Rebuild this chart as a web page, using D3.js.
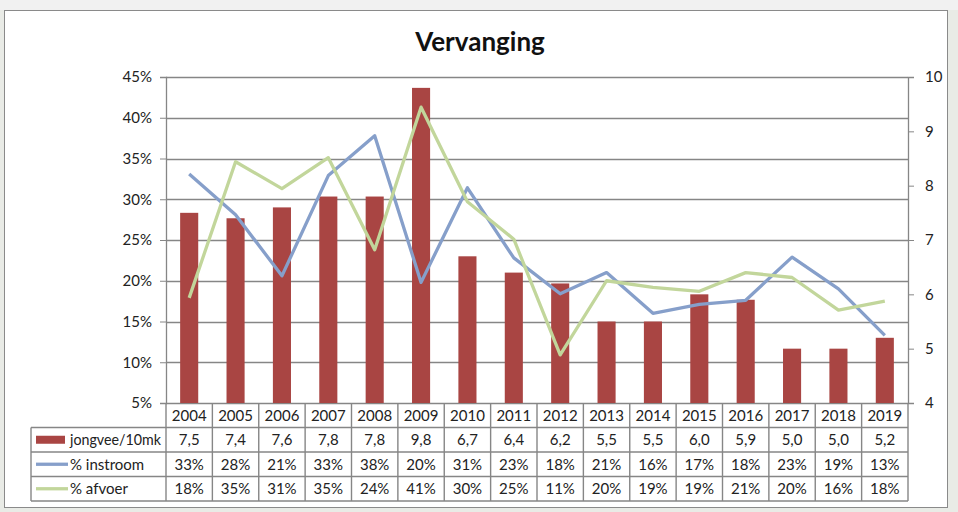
<!DOCTYPE html>
<html>
<head>
<meta charset="utf-8">
<script src="https://cdn.jsdelivr.net/npm/d3@7"></script>
<style>
  html, body { margin: 0; padding: 0; background: #e9ebe6; }
  svg { display: block; font-family: Lato, "Open Sans", sans-serif; }
</style>
</head>
<body>
<svg id="chart"></svg>
<script>
// data
const years = ["2004", "2005", "2006", "2007", "2008", "2009", "2010", "2011",
  "2012", "2013", "2014", "2015", "2016", "2017", "2018", "2019"];
const jongvee = [7.5, 7.4, 7.6, 7.8, 7.8, 9.8, 6.7, 6.4, 6.2, 5.5, 5.5, 6.0, 5.9, 5.0, 5.0, 5.2];
const instroom = [33.1, 28.1, 20.6, 32.9, 37.8, 19.8, 31.4, 22.8, 18.4, 21.0, 16.0, 17.1, 17.6, 22.9, 19.0, 13.3];
const afvoer = [17.9, 34.6, 31.3, 35.1, 23.8, 41.3, 29.7, 25.1, 10.9, 20.0, 19.2, 18.7, 21.0, 20.4, 16.4, 17.5];
const leftTicks = [5, 10, 15, 20, 25, 30, 35, 40, 45];
const rightTicks = [4, 5, 6, 7, 8, 9, 10];

const W = 958, H = 512;
const margin = { top: 77, right: 50, bottom: 109, left: 166 };
const plotW = W - margin.left - margin.right;
const plotH = H - margin.top - margin.bottom;

const colBar = "#a94543", colIn = "#869fca", colAf = "#c2d69b", colGrid = "#868686";
const font = "Lato, 'Open Sans', sans-serif";

var svg = d3.select("#chart").attr("width", W).attr("height", H);

// frame
svg.append("rect").attr("x", 0).attr("y", 0).attr("width", W).attr("height", 10).attr("fill", "#f1f1f1");
svg.append("rect").attr("x", 4.5).attr("y", 10.5).attr("width", 943).attr("height", 497)
  .attr("fill", "#ffffff").attr("stroke", "#8a8a8a").attr("stroke-width", 1);

svg.append("text").attr("x", 480).attr("y", 51).attr("text-anchor", "middle")
  .attr("font-size", "26px").attr("font-weight", "bold").attr("fill", "#111")
  .text("Vervanging");

var g = svg.append("g").attr("transform", "translate(" + margin.left + "," + margin.top + ")");

var x = d3.scaleBand().domain(years).range([0, plotW]).padding(0);
var yL = d3.scaleLinear().domain([5, 45]).range([plotH, 0]);
var yR = d3.scaleLinear().domain([4, 10]).range([plotH, 0]);

// gridlines
g.append("g").selectAll("line").data(leftTicks).enter().append("line")
  .attr("x1", 0).attr("x2", plotW)
  .attr("y1", function (d) { return Math.round(yL(d)) + 0.5; })
  .attr("y2", function (d) { return Math.round(yL(d)) + 0.5; })
  .attr("stroke", colGrid).attr("stroke-width", 1.3);

// left axis
var axL = g.append("g")
  .call(d3.axisLeft(yL).tickValues(leftTicks).tickSize(6).tickPadding(8)
    .tickFormat(function (d) { return d + "%"; }));
axL.select(".domain").attr("stroke", colGrid).attr("stroke-width", 1.3);
axL.selectAll(".tick line").attr("stroke", colGrid);
axL.selectAll("text").attr("font-size", "15px").attr("fill", "#222").attr("font-family", font);

// right axis
var axR = g.append("g").attr("transform", "translate(" + plotW + ",0)")
  .call(d3.axisRight(yR).tickValues(rightTicks).tickSize(6).tickPadding(11)
    .tickFormat(d3.format("d")));
axR.select(".domain").attr("stroke", colGrid).attr("stroke-width", 1.3);
axR.selectAll(".tick line").attr("stroke", colGrid);
axR.selectAll("text").attr("font-size", "15px").attr("fill", "#222").attr("font-family", font);

// bars
var barW = x.bandwidth() * 0.39;
g.append("g").selectAll("rect").data(jongvee).enter().append("rect")
  .attr("x", function (d, i) { return x(years[i]) + (x.bandwidth() - barW) / 2; })
  .attr("y", function (d) { return yR(d); })
  .attr("width", barW)
  .attr("height", function (d) { return plotH - yR(d); })
  .attr("fill", colBar);

// lines
var line = d3.line()
  .x(function (d, i) { return x(years[i]) + x.bandwidth() / 2; })
  .y(function (d) { return yL(d); });

g.append("path").datum(instroom).attr("d", line)
  .attr("fill", "none").attr("stroke", colIn).attr("stroke-width", 3.3).attr("stroke-linejoin", "round");
g.append("path").datum(afvoer).attr("d", line)
  .attr("fill", "none").attr("stroke", colAf).attr("stroke-width", 3.3).attr("stroke-linejoin", "round");

// data table
var rowH = 24.5;
var tableX0 = 31 - margin.left;
var rows = [
  { name: "jongvee/10mk", vals: jongvee.map(function (d) { return d.toFixed(1).replace(".", ","); }) },
  { name: "% instroom", vals: instroom.map(function (d) { return Math.round(d) + "%"; }) },
  { name: "% afvoer", vals: afvoer.map(function (d) { return Math.round(d) + "%"; }) }
];

var tbl = g.append("g").attr("transform", "translate(0," + plotH + ")");

// year row
tbl.selectAll(".yr").data(years).enter().append("text")
  .attr("class", "yr")
  .attr("x", function (d) { return x(d) + x.bandwidth() / 2; })
  .attr("y", rowH / 2 + 5.5)
  .attr("text-anchor", "middle").attr("font-size", "15px").attr("fill", "#222")
  .text(function (d) { return d; });

rows.forEach(function (r, ri) {
  var yTop = rowH * (ri + 1);
  tbl.append("g").selectAll("text").data(r.vals).enter().append("text")
    .attr("x", function (d, i) { return x(years[i]) + x.bandwidth() / 2; })
    .attr("y", yTop + rowH / 2 + 5.5)
    .attr("text-anchor", "middle").attr("font-size", "15px").attr("fill", "#222")
    .text(function (d) { return d; });
  var lbl = tbl.append("text").attr("x", 70 - margin.left).attr("y", yTop + rowH / 2 + 5.5)
    .attr("font-size", "15px").attr("fill", "#222").text(r.name);
  if (ri === 0) lbl.attr("textLength", 91).attr("lengthAdjust", "spacingAndGlyphs");
});

// legend keys
tbl.append("rect").attr("x", 36 - margin.left).attr("y", rowH * 1.5 - 4)
  .attr("width", 29).attr("height", 8).attr("fill", colBar);
tbl.append("line").attr("x1", 36 - margin.left).attr("x2", 68 - margin.left)
  .attr("y1", rowH * 2.5).attr("y2", rowH * 2.5).attr("stroke", colIn).attr("stroke-width", 3.3);
tbl.append("line").attr("x1", 36 - margin.left).attr("x2", 68 - margin.left)
  .attr("y1", rowH * 3.5).attr("y2", rowH * 3.5).attr("stroke", colAf).attr("stroke-width", 3.3);

// table grid
var gridG = tbl.append("g").attr("stroke", colGrid).attr("stroke-width", 1.4);
[1, 2, 3, 4].forEach(function (k) {
  gridG.append("line").attr("x1", tableX0).attr("x2", plotW)
    .attr("y1", rowH * k).attr("y2", rowH * k);
});
gridG.append("line").attr("x1", tableX0).attr("x2", tableX0).attr("y1", rowH).attr("y2", rowH * 4);
years.forEach(function (d) {
  gridG.append("line").attr("x1", x(d)).attr("x2", x(d)).attr("y1", 0).attr("y2", rowH * 4);
});
gridG.append("line").attr("x1", plotW).attr("x2", plotW).attr("y1", 0).attr("y2", rowH * 4);
</script>
</body>
</html>
